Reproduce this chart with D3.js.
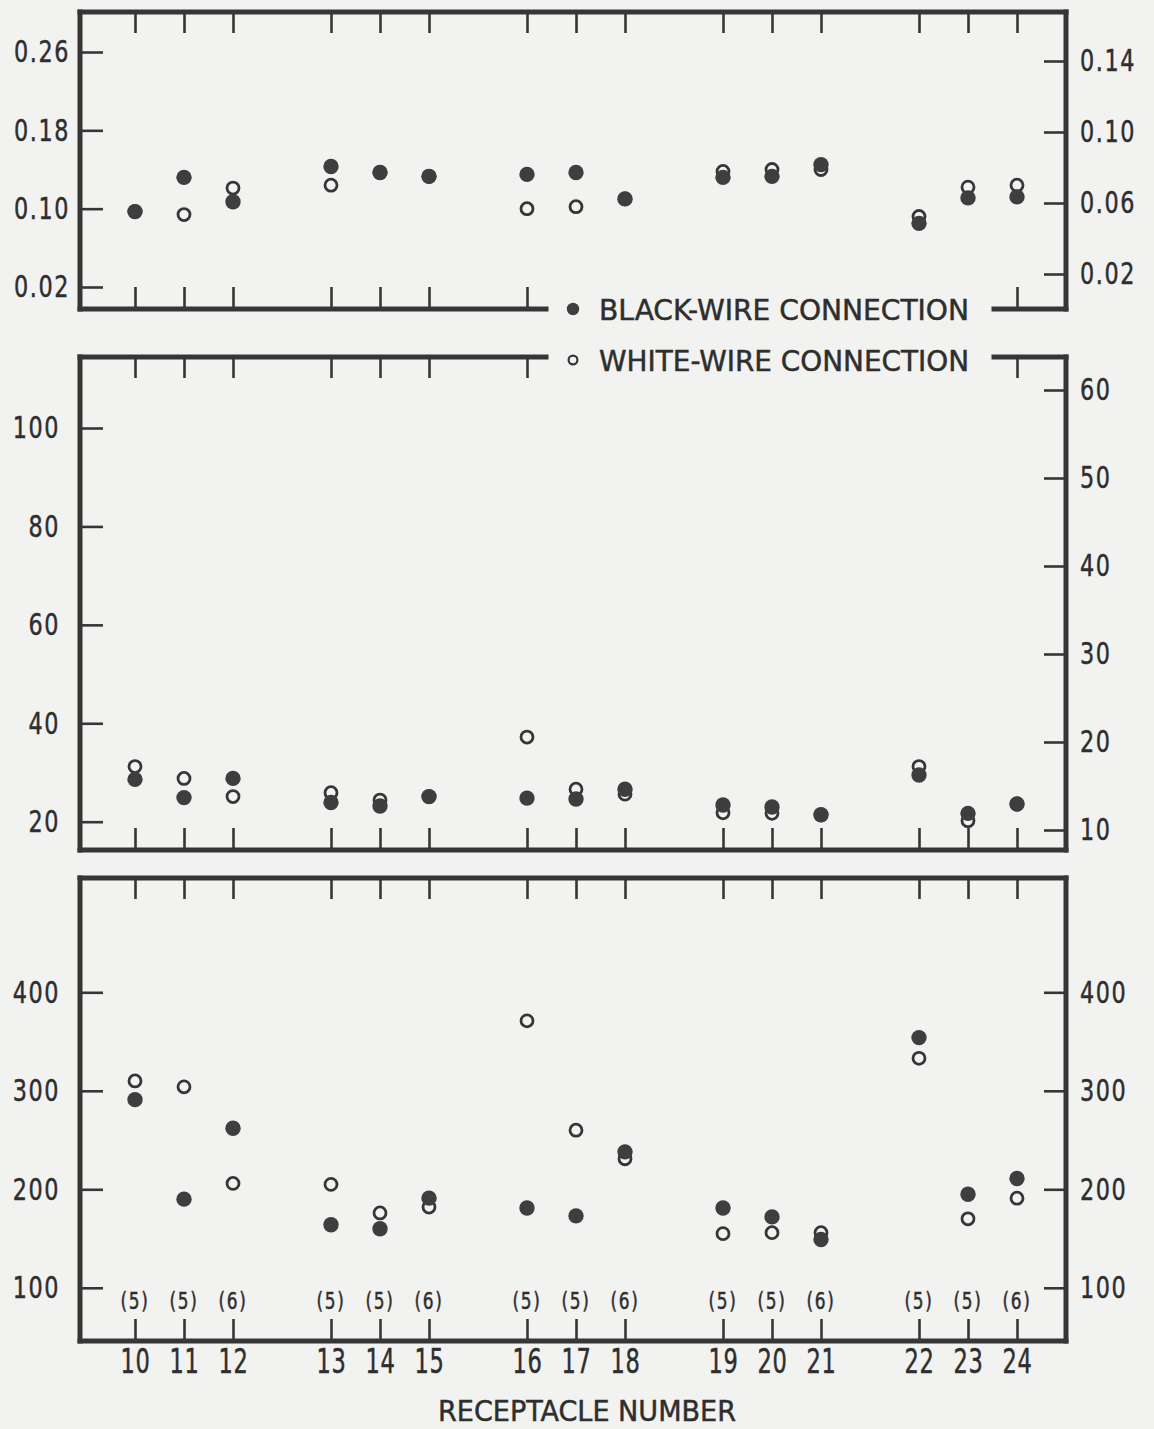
<!DOCTYPE html>
<html>
<head>
<meta charset="utf-8">
<script src="https://cdn.jsdelivr.net/npm/d3@7"></script>
<style>
  html, body { margin: 0; padding: 0; background: #f2f2f0; }
  svg { display: block; }
  text { font-family: "DejaVu Sans Condensed", "DejaVu Sans", sans-serif; font-stretch: condensed; fill: #2e2e2e; stroke: #2e2e2e; stroke-width: 0.45; }
</style>
</head>
<body>
<svg id="chart" width="1154" height="1429"></svg>
<script>
// ---------------- DATA ----------------
const receptacles = [10, 11, 12, 13, 14, 15, 16, 17, 18, 19, 20, 21, 22, 23, 24];
const sampleCounts = [5, 5, 6, 5, 5, 6, 5, 5, 6, 5, 5, 6, 5, 5, 6];

// Top panel (left scale 0.02-0.26)
const topBlack = [0.097, 0.132, 0.107, 0.143, 0.137, 0.133, 0.135, 0.137, 0.110, 0.132, 0.133, 0.145, 0.085, 0.111, 0.112];
const topWhite = [0.097, 0.094, 0.121, 0.124, 0.137, 0.133, 0.100, 0.102, 0.110, 0.138, 0.140, 0.140, 0.092, 0.122, 0.124];

// Middle panel (left scale 20-100)
const midBlack = [28.6, 24.9, 28.8, 23.9, 23.2, 25.1, 24.8, 24.6, 26.6, 23.4, 23.0, 21.4, 29.5, 21.7, 23.6];
const midWhite = [31.2, 28.8, 25.1, 25.9, 24.4, 25.1, 37.2, 26.6, 25.6, 21.8, 21.7, 21.4, 31.2, 20.2, 23.6];

// Bottom panel (left scale 100-400)
const botBlack = [291, 190, 262, 164, 160, 191, 181, 173, 238, 181, 172, 149, 354, 195, 211];
const botWhite = [310, 304, 206, 205, 176, 182, 371, 260, 231, 155, 156, 156, 333, 170, 191];

// Tick labels
const topLeftTicks = [0.02, 0.10, 0.18, 0.26];
const topRightTicks = [0.02, 0.06, 0.10, 0.14];
const midLeftTicks = [20, 40, 60, 80, 100];
const midRightTicks = [10, 20, 30, 40, 50, 60];
const botLeftTicks = [100, 200, 300, 400];
const botRightTicks = [100, 200, 300, 400];

const legendLabels = ["BLACK-WIRE CONNECTION", "WHITE-WIRE CONNECTION"];
const xTitle = "RECEPTACLE NUMBER";

// ---------------- LAYOUT ----------------
const svg = d3.select("#chart");
const INK = "#363636";
const BG = "#f2f2f0";
const frameL = 80, frameR = 1066;
const gap = [546, 994];

// slot index: groups of three receptacles separated by one empty slot
const slot = receptacles.map((r, i) => i + Math.floor(i / 3));
const x = d3.scaleLinear().domain([0, d3.max(slot)]).range([135, 1017]);

const panels = [
  { top: 12, bottom: 309, lpad: 12,
    left: d3.scaleLinear().domain([0.02, 0.26]).range([287, 52]), leftTicks: topLeftTicks, leftFmt: d3.format(".2f"),
    right: d3.scaleLinear().domain([0.02, 0.14]).range([274, 61]), rightTicks: topRightTicks, rightFmt: d3.format(".2f"),
    black: topBlack, white: topWhite, gapBottom: true },
  { top: 357, bottom: 850, lpad: 22,
    left: d3.scaleLinear().domain([20, 100]).range([821.7, 428]), leftTicks: midLeftTicks, leftFmt: d3.format("d"),
    right: d3.scaleLinear().domain([10, 60]).range([830, 390]), rightTicks: midRightTicks, rightFmt: d3.format("d"),
    black: midBlack, white: midWhite, gapTop: true },
  { top: 878, bottom: 1341, lpad: 22,
    left: d3.scaleLinear().domain([100, 400]).range([1287.8, 992.3]), leftTicks: botLeftTicks, leftFmt: d3.format("d"),
    right: d3.scaleLinear().domain([100, 400]).range([1287.8, 992.3]), rightTicks: botRightTicks, rightFmt: d3.format("d"),
    black: botBlack, white: botWhite, xLabels: true }
];

// horizontally condense text while keeping its anchor point
function squeeze(sel, sx) {
  sel.each(function () {
    const t = d3.select(this);
    const x0 = +t.attr("x") || 0;
    t.attr("x", x0 / sx).attr("transform", `scale(${sx},1)`);
  });
}

function styleAxis(g, fontSize, spacing, sx) {
  g.select(".domain").remove();
  g.selectAll(".tick line").attr("stroke", INK).attr("stroke-width", 2.6);
  const t = g.selectAll(".tick text").attr("font-size", fontSize).attr("fill", "#2e2e2e")
    .attr("letter-spacing", spacing || 0)
    .attr("font-family", "'DejaVu Sans Condensed', 'DejaVu Sans', sans-serif");
  if (sx) squeeze(t, sx);
}

panels.forEach(p => {
  const g = svg.append("g");

  // y axes (ticks point inward)
  const la = g.append("g").attr("transform", `translate(${frameL},0)`)
    .call(d3.axisLeft(p.left).tickValues(p.leftTicks).tickFormat(p.leftFmt).tickSizeInner(-23).tickSizeOuter(0).tickPadding(p.lpad - 2));
  styleAxis(la, 31, 2, 0.8);
  const ra = g.append("g").attr("transform", `translate(${frameR},0)`)
    .call(d3.axisRight(p.right).tickValues(p.rightTicks).tickFormat(p.rightFmt).tickSizeInner(-22).tickSizeOuter(0).tickPadding(14));
  styleAxis(ra, 31, 2, 0.8);

  // x ticks top and bottom (pointing inward)
  const ta = g.append("g").attr("transform", `translate(0,${p.top})`)
    .call(d3.axisTop(x).tickValues(slot).tickFormat("").tickSizeInner(-21).tickSizeOuter(0));
  styleAxis(ta, 0);
  const ba = g.append("g").attr("transform", `translate(0,${p.bottom})`)
    .call(d3.axisBottom(x).tickValues(slot)
      .tickFormat(p.xLabels ? (s => receptacles[slot.indexOf(s)]) : "")
      .tickSizeInner(-22).tickSizeOuter(0).tickPadding(9));
  styleAxis(ba, 33, 1, 0.76);
  if (p.gapTop) ta.selectAll(".tick").filter(s => x(s) > gap[0] && x(s) < gap[1]).remove();
  if (p.gapBottom) ba.selectAll(".tick").filter(s => x(s) > gap[0] && x(s) < gap[1]).remove();

  // frame
  const fw = 5;
  const seg = (x1, y1, x2, y2) => g.append("line").attr("x1", x1).attr("y1", y1).attr("x2", x2).attr("y2", y2)
    .attr("stroke", INK).attr("stroke-width", fw).attr("stroke-linecap", "square");
  seg(frameL, p.top, frameL, p.bottom);
  seg(frameR, p.top, frameR, p.bottom);
  if (p.gapTop) { seg(frameL, p.top, gap[0], p.top); seg(gap[1], p.top, frameR, p.top); }
  else seg(frameL, p.top, frameR, p.top);
  if (p.gapBottom) { seg(frameL, p.bottom, gap[0], p.bottom); seg(gap[1], p.bottom, frameR, p.bottom); }
  else seg(frameL, p.bottom, frameR, p.bottom);

  // points: white (open) first, black (filled) on top
  g.append("g").selectAll("circle").data(p.white).join("circle")
    .attr("cx", (d, i) => x(slot[i])).attr("cy", d => p.left(d))
    .attr("r", 6).attr("fill", BG).attr("stroke", INK).attr("stroke-width", 2.8);
  g.append("g").selectAll("circle").data(p.black).join("circle")
    .attr("cx", (d, i) => x(slot[i])).attr("cy", d => p.left(d))
    .attr("r", 7.7).attr("fill", "#3e3e3e");

  if (p.xLabels) {
    const ct = g.append("g").selectAll("text").data(sampleCounts).join("text")
      .attr("x", (d, i) => x(slot[i])).attr("y", 1309)
      .attr("text-anchor", "middle").attr("font-size", 23).attr("letter-spacing", 2)
      .text(d => `(${d})`);
    squeeze(ct, 0.82);
  }
});

// legend
const legY = [309, 360];
svg.append("circle").attr("cx", 573).attr("cy", legY[0]).attr("r", 6.2).attr("fill", "#3e3e3e");
svg.append("circle").attr("cx", 573).attr("cy", legY[1]).attr("r", 4.4).attr("fill", BG).attr("stroke", INK).attr("stroke-width", 2.2);
legendLabels.forEach((t, i) => {
  svg.append("text").attr("x", 599).attr("y", legY[i] + 11)
    .attr("font-size", 29).attr("textLength", 370).attr("lengthAdjust", "spacingAndGlyphs")
    .text(t);
});

// x axis title
svg.append("text").attr("x", 587).attr("y", 1421).attr("text-anchor", "middle")
  .attr("font-size", 29).attr("textLength", 298).attr("lengthAdjust", "spacingAndGlyphs")
  .text(xTitle);
</script>
</body>
</html>
